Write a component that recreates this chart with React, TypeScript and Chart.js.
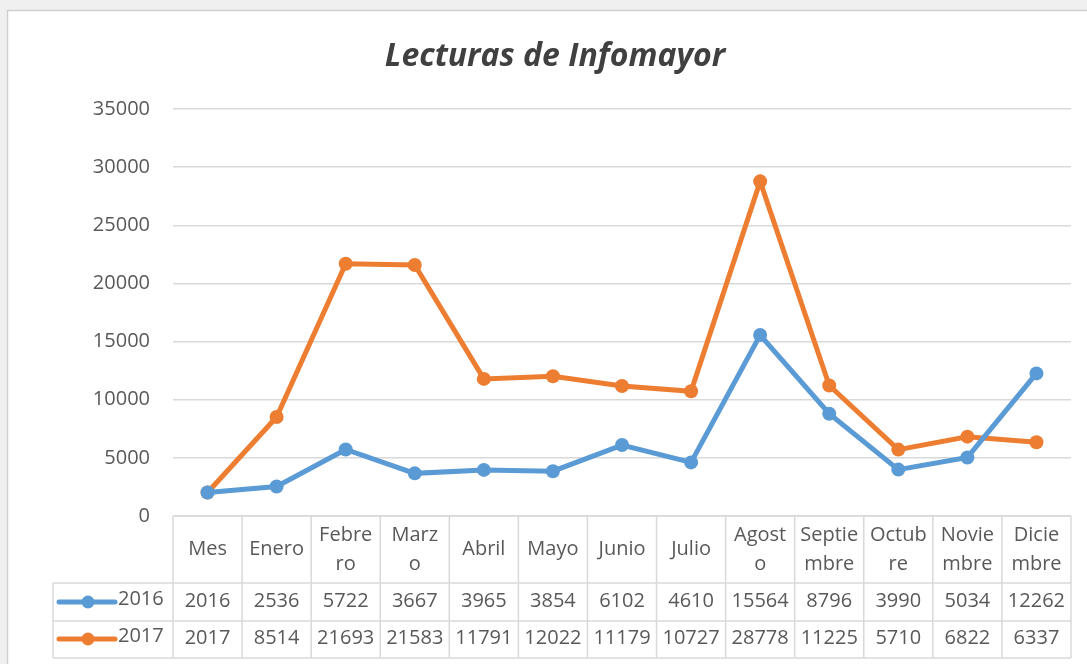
import React, { useEffect, useRef } from "react";
import { Chart, registerables } from "chart.js";

Chart.register(...registerables);

const titleText = "Lecturas de Infomayor";
const categories = ["Mes", "Enero", "Febrero", "Marzo", "Abril", "Mayo", "Junio", "Julio", "Agosto", "Septiembre", "Octubre", "Noviembre", "Diciembre"];
const categoryLines = [["Mes"], ["Enero"], ["Febre", "ro"], ["Marz", "o"], ["Abril"], ["Mayo"], ["Junio"], ["Julio"], ["Agost", "o"], ["Septie", "mbre"], ["Octub", "re"], ["Novie", "mbre"], ["Dicie", "mbre"]];
const seriesNames = ["2016", "2017"];
const values2016 = [2016, 2536, 5722, 3667, 3965, 3854, 6102, 4610, 15564, 8796, 3990, 5034, 12262];
const values2017 = [2017, 8514, 21693, 21583, 11791, 12022, 11179, 10727, 28778, 11225, 5710, 6822, 6337];
const seriesColors = ["#5B9BD5", "#ED7D31"];
const yMin = 0;
const yMax = 35000;
const yStep = 5000;

const FONT = "'Open Sans', 'DejaVu Sans', sans-serif";
const TEXT = "#595959";
const GRID = "#d9d9d9";

const backgroundPlugin = {
  id: "pageBackground",
  beforeDraw(chart: any) {
    const ctx = chart.ctx;
    ctx.save();
    ctx.fillStyle = "#f0f0f0";
    ctx.fillRect(0, 0, chart.width, chart.height);
    ctx.fillStyle = "#ffffff";
    ctx.fillRect(7, 10, chart.width, chart.height);
    ctx.strokeStyle = "#d0d0d0";
    ctx.lineWidth = 1.5;
    ctx.beginPath();
    ctx.moveTo(7.5, chart.height);
    ctx.lineTo(7.5, 10.5);
    ctx.lineTo(chart.width, 10.5);
    ctx.stroke();
    ctx.restore();
  },
};

const tablePlugin = {
  id: "dataTable",
  afterDraw(chart: any) {
    const ctx = chart.ctx;
    const xs = chart.scales.x;
    const { left, right, bottom } = chart.chartArea;
    const n = categories.length;
    const colW = (right - left) / n;
    const headerBottom = bottom + 67;
    const rowBottoms = [headerBottom + 38, headerBottom + 75];
    const legendLeft = left - 120;

    ctx.save();
    ctx.strokeStyle = GRID;
    ctx.lineWidth = 1.5;
    ctx.beginPath();
    ctx.moveTo(left, bottom);
    ctx.lineTo(right, bottom);
    ctx.moveTo(legendLeft, headerBottom);
    ctx.lineTo(right, headerBottom);
    rowBottoms.forEach((y) => {
      ctx.moveTo(legendLeft, y);
      ctx.lineTo(right, y);
    });
    ctx.moveTo(legendLeft, headerBottom);
    ctx.lineTo(legendLeft, rowBottoms[1]);
    for (let k = 0; k <= n; k++) {
      const x = left + k * colW;
      ctx.moveTo(x, bottom);
      ctx.lineTo(x, rowBottoms[1]);
    }
    ctx.stroke();

    ctx.fillStyle = TEXT;
    ctx.font = `20px ${FONT}`;
    ctx.textAlign = "center";
    ctx.textBaseline = "middle";
    const headerMid = (bottom + headerBottom) / 2;
    categoryLines.forEach((lines, i) => {
      const cx = xs.getPixelForValue(i);
      const lh = 29;
      const start = headerMid - ((lines.length - 1) * lh) / 2;
      lines.forEach((ln, j) => ctx.fillText(ln, cx, start + j * lh));
    });

    const seriesVals = [values2016, values2017];
    const rowMids = [headerBottom + 18, rowBottoms[0] + 17];
    seriesVals.forEach((vals, s) => {
      vals.forEach((v, i) => {
        ctx.fillText(String(v), xs.getPixelForValue(i), rowMids[s]);
      });
      const ly = rowMids[s] + 1;
      ctx.strokeStyle = seriesColors[s];
      ctx.lineWidth = 5;
      ctx.lineCap = "round";
      ctx.beginPath();
      ctx.moveTo(legendLeft + 6, ly);
      ctx.lineTo(legendLeft + 62, ly);
      ctx.stroke();
      ctx.fillStyle = seriesColors[s];
      ctx.beginPath();
      ctx.arc(legendLeft + 35, ly, 6.5, 0, Math.PI * 2);
      ctx.fill();
      ctx.fillStyle = TEXT;
      ctx.textAlign = "left";
      ctx.fillText(seriesNames[s], legendLeft + 65, rowMids[s] - 2);
      ctx.textAlign = "center";
    });
    ctx.restore();
  },
};

export default function App() {
  const ref = useRef<HTMLCanvasElement | null>(null);

  useEffect(() => {
    document.body.style.margin = "0";
    const canvas = ref.current;
    if (!canvas) return;
    const mkDataset = (label: string, data: number[], color: string) => ({
      label,
      data,
      borderColor: color,
      backgroundColor: color,
      borderWidth: 5,
      pointRadius: 7,
      pointBorderWidth: 0,
      pointBackgroundColor: color,
      tension: 0,
    });
    const chart = new Chart(canvas, {
      type: "line",
      data: {
        labels: categories,
        datasets: [
          mkDataset(seriesNames[0], values2016, seriesColors[0]),
          mkDataset(seriesNames[1], values2017, seriesColors[1]),
        ],
      },
      options: {
        responsive: false,
        animation: false,
        devicePixelRatio: 1,
        layout: { padding: { left: 39, right: 16, top: 0, bottom: 148 } },
        plugins: {
          legend: { display: false },
          tooltip: { enabled: false },
          title: {
            display: true,
            text: titleText,
            color: "#404040",
            font: { family: FONT, size: 32, weight: "bold", style: "italic" },
            padding: { top: 37.8, bottom: 32.8 },
          },
        },
        scales: {
          x: {
            type: "category",
            offset: true,
            display: false,
          },
          y: {
            min: yMin,
            max: yMax,
            afterFit: (scale: any) => {
              scale.width = 134;
            },
            ticks: {
              stepSize: yStep,
              color: TEXT,
              padding: 23,
              font: { family: FONT, size: 20 },
              callback: (v: any) => String(v),
            },
            grid: { color: GRID, lineWidth: 1.5, drawTicks: false },
            border: { display: false },
          },
        },
      },
      plugins: [backgroundPlugin, tablePlugin],
    });
    return () => chart.destroy();
  }, []);

  return (
    <canvas
      ref={ref}
      width={1087}
      height={664}
      style={{ display: "block", width: 1087, height: 664 }}
    />
  );
}
